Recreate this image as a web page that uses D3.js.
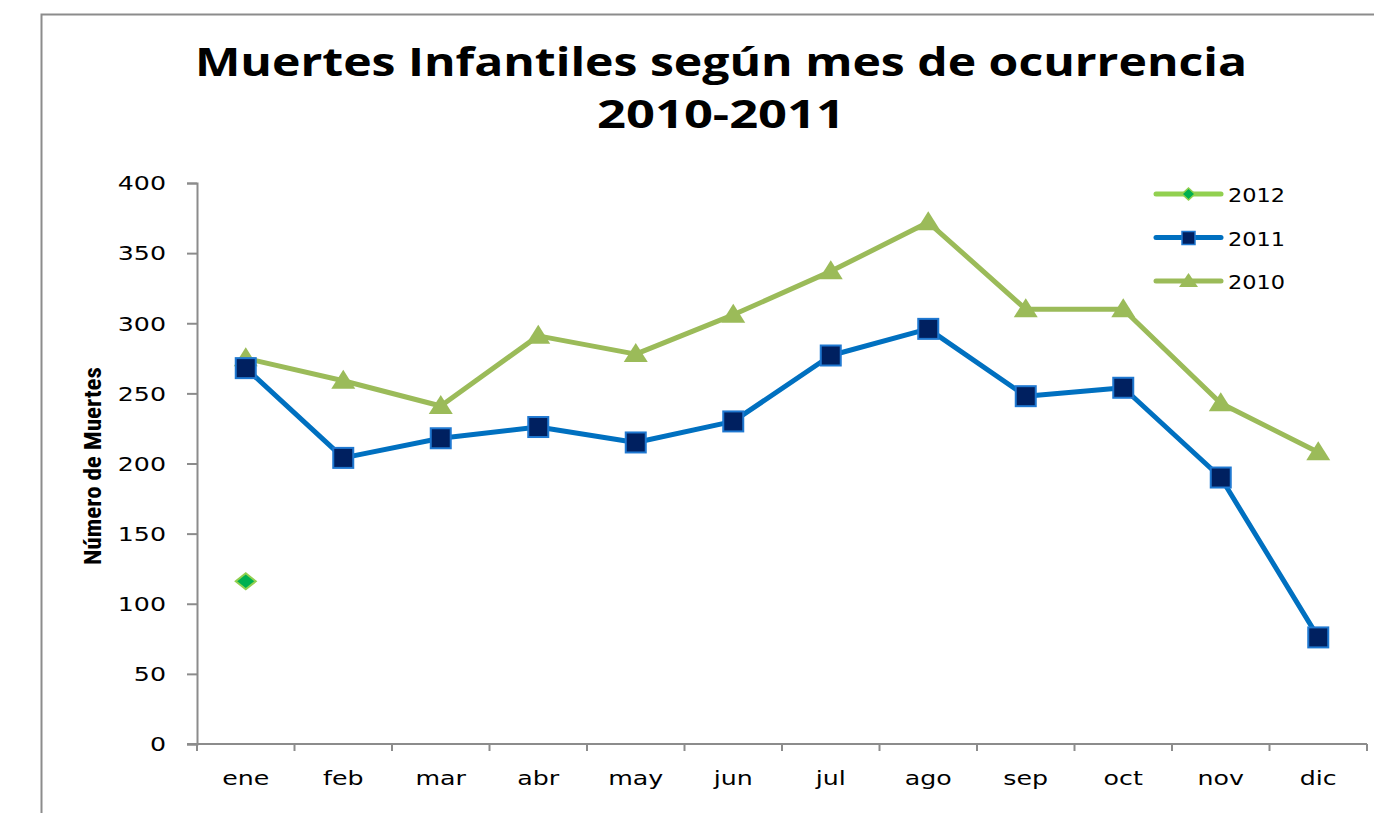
<!DOCTYPE html>
<html>
<head>
<meta charset="utf-8">
<script src="https://cdn.jsdelivr.net/npm/d3@7"></script>
<style>
  body { margin: 0; background: #fff; }
  svg { display: block; }
</style>
</head>
<body>
<div id="chart-container"></div>
<script>
// Data
const months = ["ene", "feb", "mar", "abr", "may", "jun", "jul", "ago", "sep", "oct", "nov", "dic"];
const values2010 = [275, 259, 241, 291, 278, 306, 337, 372, 310, 310, 243, 208];
const values2011 = [268, 204, 218, 226, 215, 230, 277, 296, 248, 254, 190, 76];
const values2012 = [116, null, null, null, null, null, null, null, null, null, null, null];
const yTicks = [0, 50, 100, 150, 200, 250, 300, 350, 400];
const titleLines = ["Muertes Infantiles según mes de ocurrencia", "2010-2011"];

const W = 1374, H = 813;
const svg = d3.select("#chart-container").append("svg")
  .attr("width", W).attr("height", H);

// the original text is drawn wider than the fonts we have, so stretch it
function stretch(sel, k) {
  sel.each(function () {
    const w = this.getComputedTextLength();
    d3.select(this).attr("textLength", w * k).attr("lengthAdjust", "spacingAndGlyphs");
  });
}

// Chart border (cropped on right and bottom)
svg.append("rect")
  .attr("x", 41.5).attr("y", 14.5)
  .attr("width", 1400).attr("height", 900)
  .attr("fill", "none").attr("stroke", "#8c8c8c").attr("stroke-width", 2);

// Title
const titleWidths = [1052, 248];
titleLines.forEach((t, i) => {
  svg.append("text")
    .attr("x", 721).attr("y", 76 + i * 52)
    .attr("text-anchor", "middle")
    .attr("font-family", "'Open Sans', 'DejaVu Sans', sans-serif")
    .attr("font-weight", "bold")
    .attr("font-size", 40)
    .attr("textLength", titleWidths[i]).attr("lengthAdjust", "spacingAndGlyphs")
    .text(t);
});

// Plot area
const margin = { left: 197, top: 183, right: 1367, bottom: 744 };
const x = d3.scaleBand().domain(months).range([margin.left, margin.right]);
const y = d3.scaleLinear().domain([0, 400]).range([margin.bottom, margin.top]);

const axisColor = "#8c8c8c";
const tickFont = "'DejaVu Sans', Verdana, sans-serif";

// Y axis
const yAxis = svg.append("g")
  .attr("transform", `translate(${margin.left},0)`)
  .call(d3.axisLeft(y).tickValues(yTicks).tickSize(10).tickPadding(21));
yAxis.selectAll("text").attr("font-size", 19).attr("font-family", tickFont).attr("fill", "#000")
  .attr("dy", "0.36em");
stretch(yAxis.selectAll("text"), 1.33);
yAxis.select(".domain").attr("stroke", axisColor).attr("stroke-width", 2);
yAxis.selectAll(".tick line").attr("stroke", axisColor).attr("stroke-width", 2);

// X axis with ticks at category boundaries
const xAxisG = svg.append("g").attr("transform", `translate(0,${margin.bottom})`);
xAxisG.append("line")
  .attr("x1", margin.left - 10).attr("x2", margin.right)
  .attr("stroke", axisColor).attr("stroke-width", 2);
const bounds = months.map(m => x(m)).concat([x.range()[1]]);
xAxisG.selectAll(".xt").data(bounds).join("line")
  .attr("class", "xt")
  .attr("x1", d => d).attr("x2", d => d)
  .attr("y1", 0).attr("y2", 7)
  .attr("stroke", axisColor).attr("stroke-width", 2);
const xLabels = xAxisG.selectAll(".xl").data(months).join("text")
  .attr("class", "xl")
  .attr("x", d => x(d) + x.bandwidth() / 2)
  .attr("y", 41)
  .attr("text-anchor", "middle")
  .attr("font-size", 19).attr("font-family", tickFont)
  .text(d => d);
stretch(xLabels, 1.33);

// Y axis title
svg.append("text")
  .attr("transform", `translate(101,466) rotate(-90)`)
  .attr("text-anchor", "middle")
  .attr("font-family", "'Liberation Sans Narrow', 'Roboto Condensed', 'Liberation Sans', sans-serif")
  .attr("font-weight", "bold")
  .attr("font-size", 23)
  .attr("textLength", 198).attr("lengthAdjust", "spacingAndGlyphs")
  .text("Número de Muertes");

const cx = m => x(m) + x.bandwidth() / 2;
const line = d3.line()
  .defined(d => d.v != null)
  .x(d => cx(d.m)).y(d => y(d.v));

const toPts = arr => months.map((m, i) => ({ m, v: arr[i] }));

const series = [
  { name: "2010", data: toPts(values2010), color: "#9bbb59", marker: "triangle" },
  { name: "2011", data: toPts(values2011), color: "#0070c0", marker: "square" },
  { name: "2012", data: toPts(values2012), color: "#92d050", marker: "diamond" }
];

function drawMarker(g, type, px, py) {
  if (type === "square") {
    g.append("rect")
      .attr("x", px - 10).attr("y", py - 10).attr("width", 20).attr("height", 20)
      .attr("fill", "#002060").attr("stroke", "#1f78d1").attr("stroke-width", 2);
  } else if (type === "triangle") {
    g.append("path")
      .attr("d", `M${px},${py - 11} L${px + 12},${py + 8} L${px - 12},${py + 8} Z`)
      .attr("fill", "#9bbb59");
  } else {
    g.append("path")
      .attr("d", `M${px},${py - 8} L${px + 10},${py} L${px},${py + 8} L${px - 10},${py} Z`)
      .attr("fill", "#00b050").attr("stroke", "#92d050").attr("stroke-width", 2);
  }
}

// Lines then markers, 2010 at back
series.forEach(s => {
  svg.append("path").datum(s.data)
    .attr("fill", "none").attr("stroke", s.color)
    .attr("stroke-width", 5).attr("stroke-linejoin", "round")
    .attr("d", line);
});
series.forEach(s => {
  const g = svg.append("g");
  s.data.filter(d => d.v != null).forEach(d => drawMarker(g, s.marker, cx(d.m), y(d.v)));
});

// Legend
const legendItems = [series[2], series[1], series[0]];
const legend = svg.append("g");
legendItems.forEach((s, i) => {
  const ly = 194 + i * 43.5;
  legend.append("line")
    .attr("x1", 1156).attr("x2", 1221).attr("y1", ly).attr("y2", ly)
    .attr("stroke", s.color).attr("stroke-width", 5).attr("stroke-linecap", "round");
  if (s.marker === "square") {
    legend.append("rect")
      .attr("x", 1182).attr("y", ly - 6).attr("width", 13).attr("height", 13)
      .attr("fill", "#002060").attr("stroke", "#1f78d1").attr("stroke-width", 1.5);
  } else if (s.marker === "triangle") {
    legend.append("path")
      .attr("d", `M1188.5,${ly - 8} L1198,${ly + 6} L1179,${ly + 6} Z`)
      .attr("fill", "#9bbb59");
  } else {
    legend.append("path")
      .attr("d", `M1188.5,${ly - 6} L1195,${ly} L1188.5,${ly + 6} L1182,${ly} Z`)
      .attr("fill", "#00b050").attr("stroke", "#92d050").attr("stroke-width", 1.5);
  }
  const lt = legend.append("text")
    .attr("x", 1228).attr("y", ly + 8)
    .attr("font-family", tickFont).attr("font-size", 19)
    .text(s.name);
  stretch(lt, 1.18);
});
</script>
</body>
</html>
